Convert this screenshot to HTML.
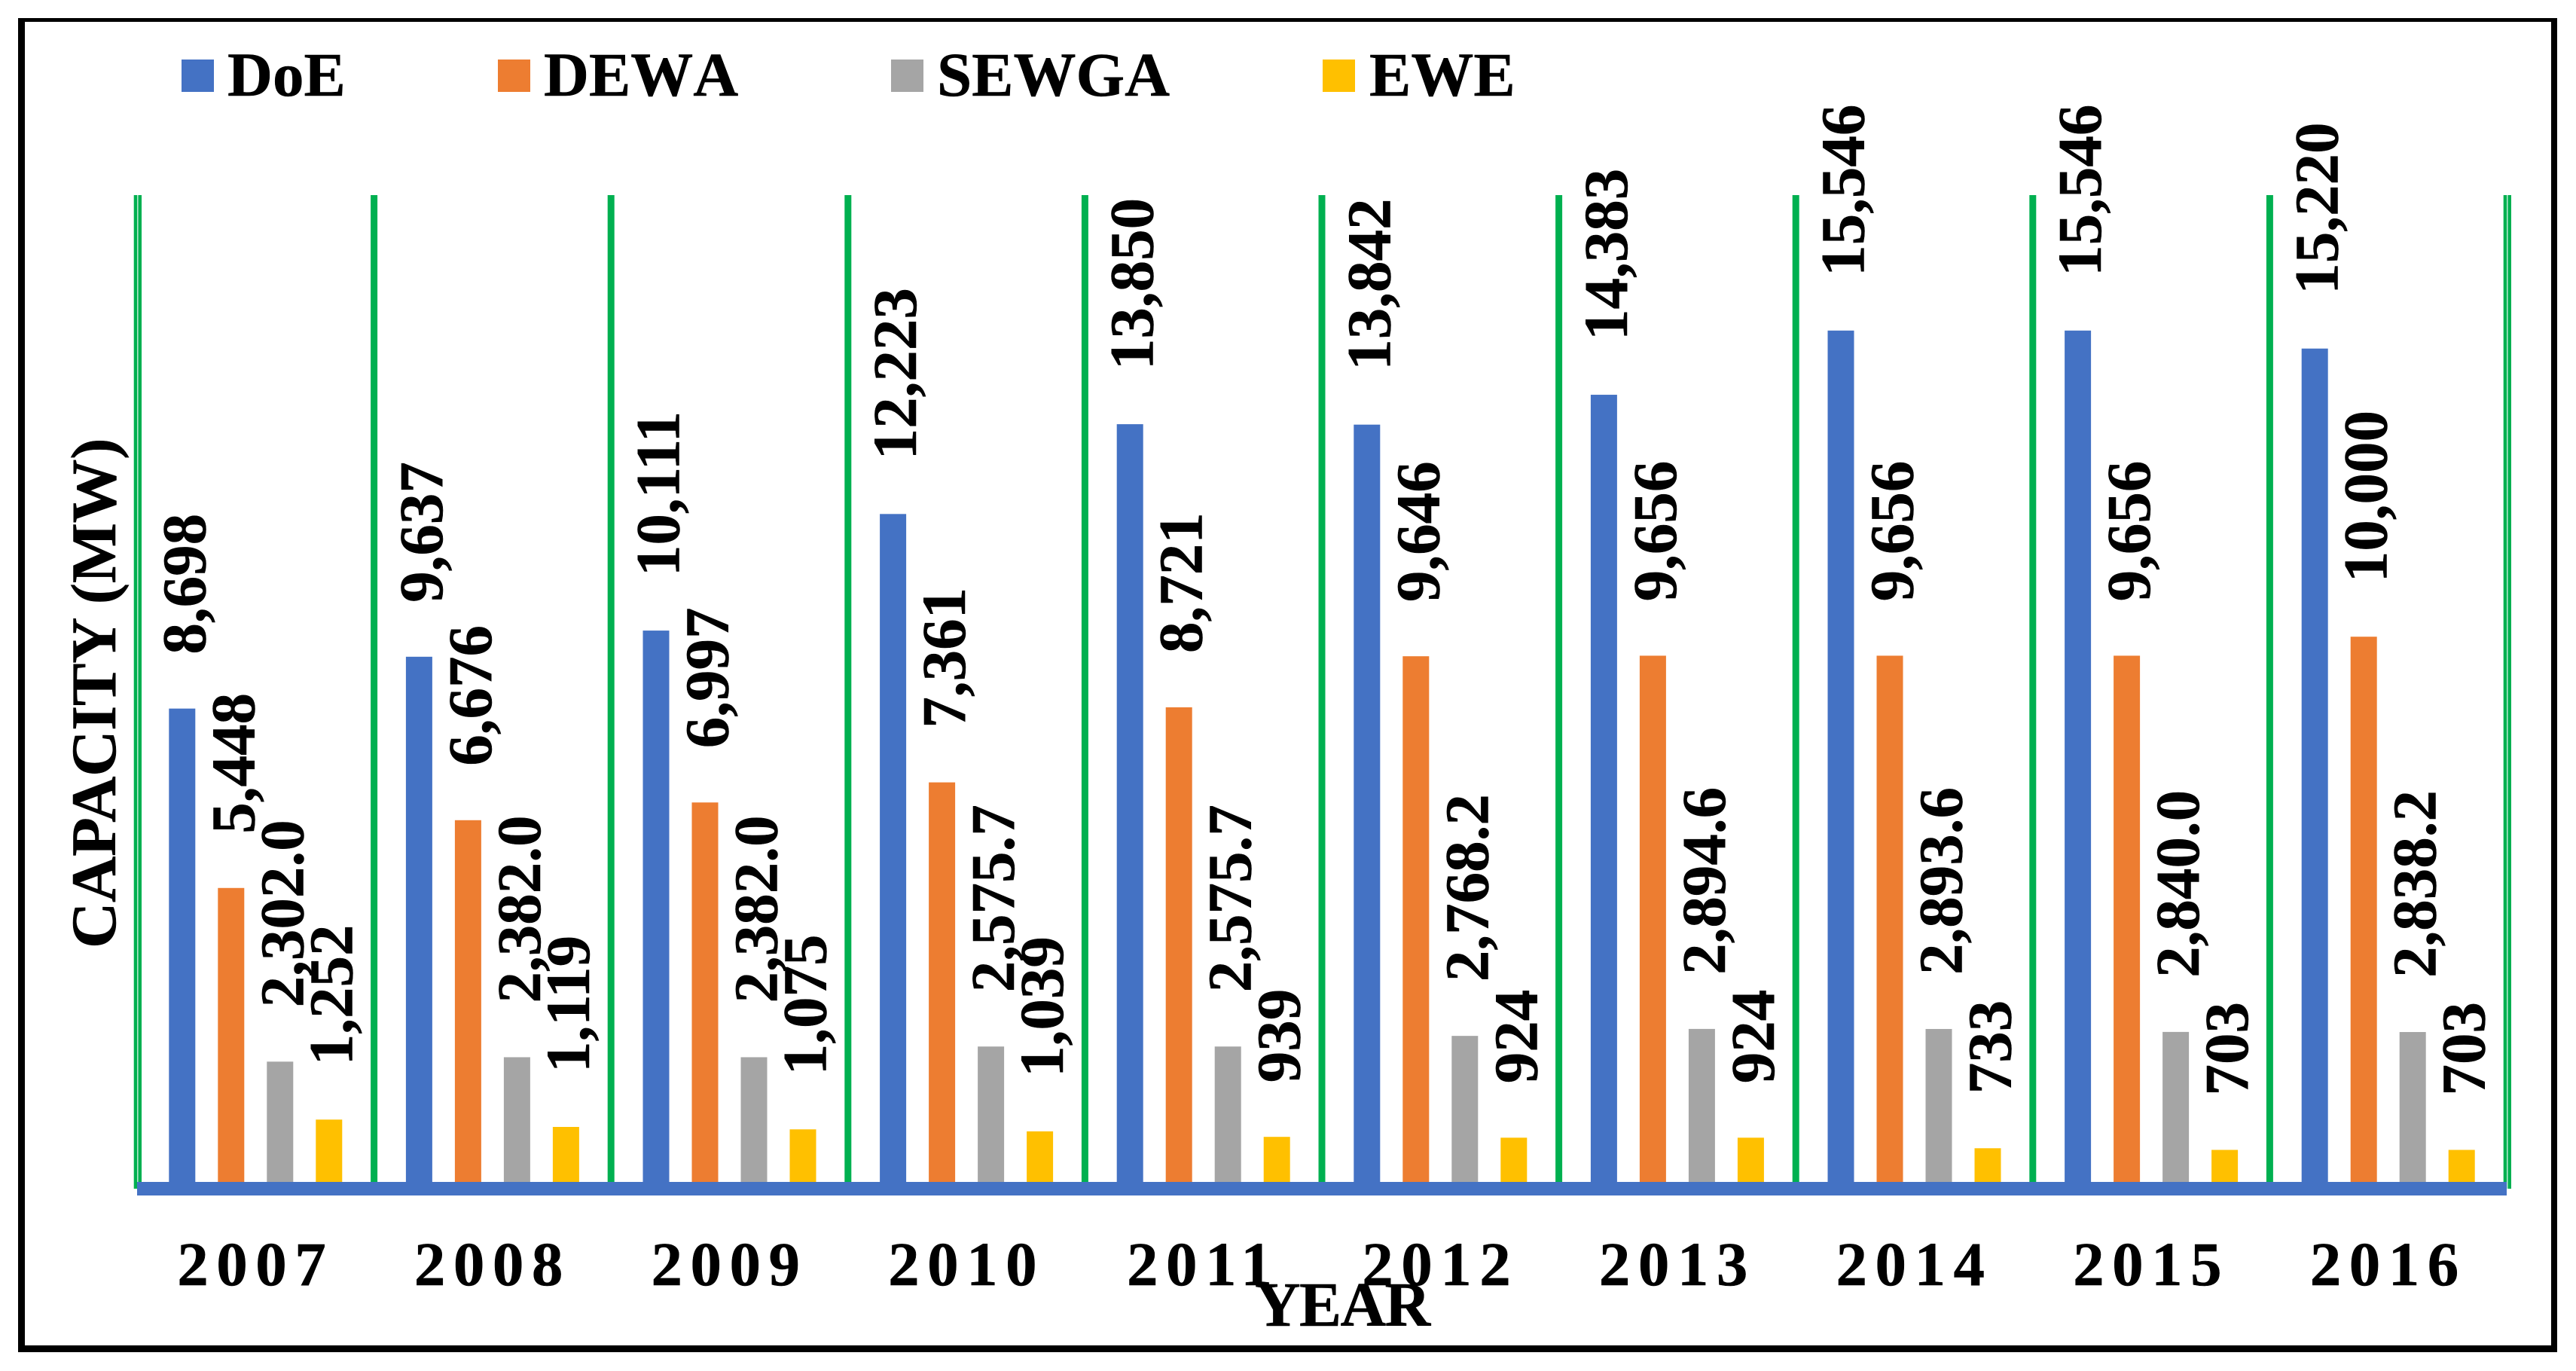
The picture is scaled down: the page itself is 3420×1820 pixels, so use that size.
<!DOCTYPE html>
<html lang="en">
<head>
<meta charset="utf-8">
<title>Capacity by year</title>
<style>
html,body{margin:0;padding:0;background:#fff;}
body{width:3420px;height:1820px;overflow:hidden;}
svg{display:block;font-family:"Liberation Serif",serif;font-weight:bold;fill:#000;}
text{stroke:#000;stroke-width:0.5px;}
</style>
</head>
<body>
<svg id="chart" xmlns="http://www.w3.org/2000/svg" width="3420" height="1820" viewBox="0 0 3420 1820">
  <path fill-rule="evenodd" fill="#000" d="M24 24H3395V1795H24Z M33 29V1786H3387V29Z"/>
  <g font-size="83">
    <g>
      <rect x="241" y="79" width="43" height="43" fill="#4472C4"/>
      <text x="302" y="127">DoE</text>
    </g>
    <g>
      <rect x="661" y="79" width="43" height="43" fill="#ED7D31"/>
      <text x="722" y="127" style="font-kerning:none">DEWA</text>
    </g>
    <g>
      <rect x="1183" y="79" width="43" height="43" fill="#A5A5A5"/>
      <text x="1244" y="127">SEWGA</text>
    </g>
    <g>
      <rect x="1756" y="79" width="43" height="43" fill="#FFC000"/>
      <text x="1818" y="127">EWE</text>
    </g>
  </g>
  <g id="grid"></g>
  <g id="bars"></g>
  <rect x="182" y="1569" width="3146" height="18" fill="#4472C4"/>
  <g id="labels" font-size="83"></g>
  <g id="ticks" font-size="83"></g>
  <text font-size="85" letter-spacing="-0.4" transform="translate(153,1259) rotate(-90)">CAPACITY (MW)</text>
  <text font-size="84" letter-spacing="-1.6" x="1666" y="1760">YEAR</text>
</svg>
<script>
const categories = ["2007","2008","2009","2010","2011","2012","2013","2014","2015","2016"];
const doeValues = [8698,9637,10111,12223,13850,13842,14383,15546,15546,15220];
const dewaValues = [5448,6676,6997,7361,8721,9646,9656,9656,9656,10000];
const sewgaValues = [2302.0,2382.0,2382.0,2575.7,2575.7,2768.2,2894.6,2893.6,2840.0,2838.2];
const eweValues = [1252,1119,1075,1039,939,924,924,733,703,703];
const seriesNames = ["doe","dewa","sewga","ewe"];
const seriesColors = ["#4472C4","#ED7D31","#A5A5A5","#FFC000"];
const seriesDecimals = [0,0,1,0];
const yAxisMax = 18000;

const NS = "http://www.w3.org/2000/svg";
const plot = {left:182, right:3328, top:259, bottom:1578};
function bandX(i){ return plot.left + (plot.right - plot.left) * i / categories.length; }
function barCenter(i, s){ return bandX(i) + (bandX(1) - bandX(0)) / 2 + (s - 1.5) * 65; }
function valueY(v){ return plot.bottom - (plot.bottom - plot.top) * v / yAxisMax; }
function formatValue(v, d){ return v.toLocaleString("en-US",{minimumFractionDigits:d,maximumFractionDigits:d}); }

const gridGroup = document.getElementById("grid");
const barGroup = document.getElementById("bars");
const labelGroup = document.getElementById("labels");
const tickGroup = document.getElementById("ticks");
const allSeries = [doeValues, dewaValues, sewgaValues, eweValues];

for (let i = 0; i <= categories.length; i++) {
  const edge = i === 0 || i === categories.length;
  const offsets = edge ? [-2, 3.7] : [0];
  offsets.forEach(function (o) {
    const line = document.createElementNS(NS, "rect");
    
    
    const w = edge ? 4.6 : 9;
    line.setAttribute("x", bandX(i) + o - w / 2);
    line.setAttribute("y", plot.top);
    line.setAttribute("width", w);
    line.setAttribute("height", plot.bottom - plot.top);
    line.setAttribute("fill", "#00B050");
    gridGroup.appendChild(line);
  });
}

allSeries.forEach(function (values, s) {
  values.forEach(function (v, i) {
    const cx = barCenter(i, s);
    const top = valueY(v);
    const bar = document.createElementNS(NS, "rect");
    
    
    bar.setAttribute("class", "bar-" + seriesNames[s] + "-" + categories[i]);
    bar.setAttribute("x", cx - 17.5);
    bar.setAttribute("y", top);
    bar.setAttribute("width", 35);
    bar.setAttribute("height", plot.bottom - top);
    bar.setAttribute("fill", seriesColors[s]);
    barGroup.appendChild(bar);

    const label = document.createElementNS(NS, "text");
    
    
    label.setAttribute("transform", "translate(" + (cx + 30.5) + "," + (top - 72) + ") rotate(-90)");
    label.textContent = formatValue(v, seriesDecimals[s]);
    labelGroup.appendChild(label);
  });
});

categories.forEach(function (c, i) {
  const t = document.createElementNS(NS, "text");
  
  
  t.setAttribute("x", bandX(i) + (bandX(1) - bandX(0)) / 2);
  t.setAttribute("y", 1706);
  t.setAttribute("text-anchor", "middle");
  t.setAttribute("letter-spacing", "10.5");
  t.textContent = c;
  tickGroup.appendChild(t);
});
</script>
</body>
</html>
